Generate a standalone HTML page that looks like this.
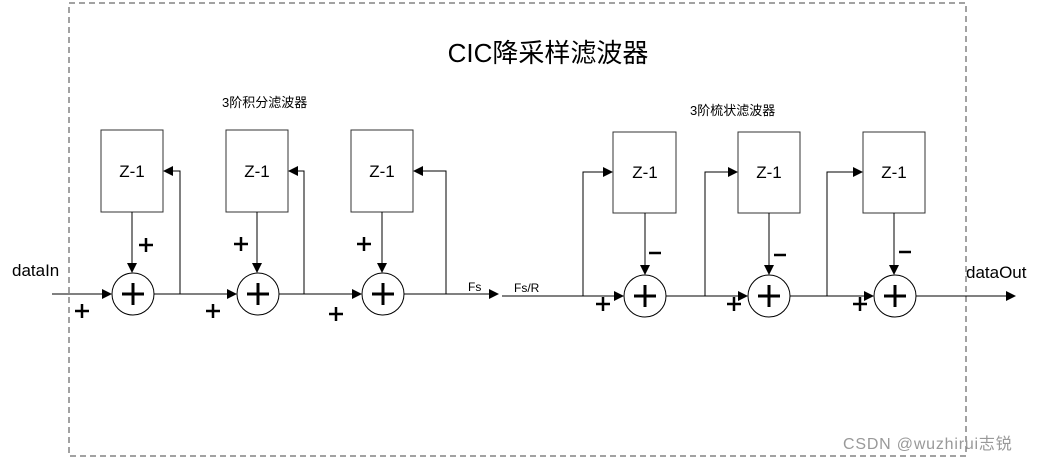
<!DOCTYPE html>
<html><head><meta charset="utf-8"><style>
body{margin:0;background:#fff;}
svg text{font-family:"Liberation Sans","Noto Sans CJK SC",sans-serif;fill:#000;}
</style></head><body>
<svg width="1048" height="462" viewBox="0 0 1048 462" xmlns="http://www.w3.org/2000/svg">
<defs><marker id="a" markerWidth="10" markerHeight="10" refX="9" refY="5" orient="auto" markerUnits="userSpaceOnUse"><path d="M0,0 L10,5 L0,10 z" fill="#000"/></marker></defs>
<rect x="69" y="3" width="897" height="453" fill="none" stroke="#444" stroke-dasharray="6,4" stroke-width="1"/>
<text x="548" y="62" font-size="26" text-anchor="middle">CIC降采样滤波器</text>
<text x="222" y="107" font-size="13">3阶积分滤波器</text>
<text x="690" y="115" font-size="13">3阶梳状滤波器</text>
<g fill="#fff" stroke="#333" stroke-width="1">
<rect x="101" y="130" width="62" height="82"/><rect x="226" y="130" width="62" height="82"/><rect x="351" y="130" width="62" height="82"/>
<rect x="613" y="132" width="63" height="81"/><rect x="738" y="132" width="62" height="81"/><rect x="863" y="132" width="62" height="81"/>
</g>
<g font-size="17" text-anchor="middle">
<text x="132" y="177">Z-1</text><text x="257" y="177">Z-1</text><text x="382" y="177">Z-1</text>
<text x="645" y="178">Z-1</text><text x="769" y="178">Z-1</text><text x="894" y="178">Z-1</text>
</g>
<g stroke="#000" stroke-width="1" fill="none">
<line x1="52" y1="294" x2="111" y2="294" marker-end="url(#a)"/>
<line x1="154" y1="294" x2="236" y2="294" marker-end="url(#a)"/>
<line x1="279" y1="294" x2="361" y2="294" marker-end="url(#a)"/>
<line x1="404" y1="294" x2="498" y2="294" marker-end="url(#a)"/>
<polyline points="180,294 180,171 164,171" marker-end="url(#a)"/>
<polyline points="304,294 304,171 289,171" marker-end="url(#a)"/>
<polyline points="446,294 446,171 414,171" marker-end="url(#a)"/>
<line x1="132" y1="212" x2="132" y2="272" marker-end="url(#a)"/>
<line x1="257" y1="212" x2="257" y2="272" marker-end="url(#a)"/>
<line x1="382" y1="212" x2="382" y2="272" marker-end="url(#a)"/>
<line x1="502" y1="296" x2="623" y2="296" marker-end="url(#a)"/>
<line x1="666" y1="296" x2="747" y2="296" marker-end="url(#a)"/>
<line x1="790" y1="296" x2="873" y2="296" marker-end="url(#a)"/>
<line x1="916" y1="296" x2="1015" y2="296" marker-end="url(#a)"/>
<polyline points="583,296 583,172 612,172" marker-end="url(#a)"/>
<polyline points="705,296 705,172 737,172" marker-end="url(#a)"/>
<polyline points="827,296 827,172 862,172" marker-end="url(#a)"/>
<line x1="645" y1="213" x2="645" y2="274" marker-end="url(#a)"/>
<line x1="769" y1="213" x2="769" y2="274" marker-end="url(#a)"/>
<line x1="894" y1="213" x2="894" y2="274" marker-end="url(#a)"/>
<circle cx="133" cy="294" r="21" fill="#fff"/><circle cx="258" cy="294" r="21" fill="#fff"/><circle cx="383" cy="294" r="21" fill="#fff"/>
<circle cx="645" cy="296" r="21" fill="#fff"/><circle cx="769" cy="296" r="21" fill="#fff"/><circle cx="895" cy="296" r="21" fill="#fff"/>
</g>
<g stroke="#000" stroke-width="3">
<path d="M122,294h22M133,283v22M247,294h22M258,283v22M372,294h22M383,283v22M634,296h22M645,285v22M758,296h22M769,285v22M884,296h22M895,285v22"/>
</g>
<g stroke="#000" stroke-width="2.5">
<path d="M75,311h14M82,304v14M206,311h14M213,304v14M329,314h14M336,307v14M139,245h14M146,238v14M234,244h14M241,237v14M357,244h14M364,237v14M596,304h14M603,297v14M727,304h14M734,297v14M853,304h14M860,297v14"/>
<path d="M649,253h12M774,255h12M899,252h12"/>
</g>
<text x="12" y="276" font-size="17">dataIn</text>
<text x="966" y="278" font-size="17">dataOut</text>
<text x="468" y="291" font-size="12">Fs</text>
<text x="514" y="292" font-size="12">Fs/R</text>
<text x="843" y="449" font-size="16" letter-spacing="0.8" style="fill:#999">CSDN @wuzhirui志锐</text>
</svg>
</body></html>
